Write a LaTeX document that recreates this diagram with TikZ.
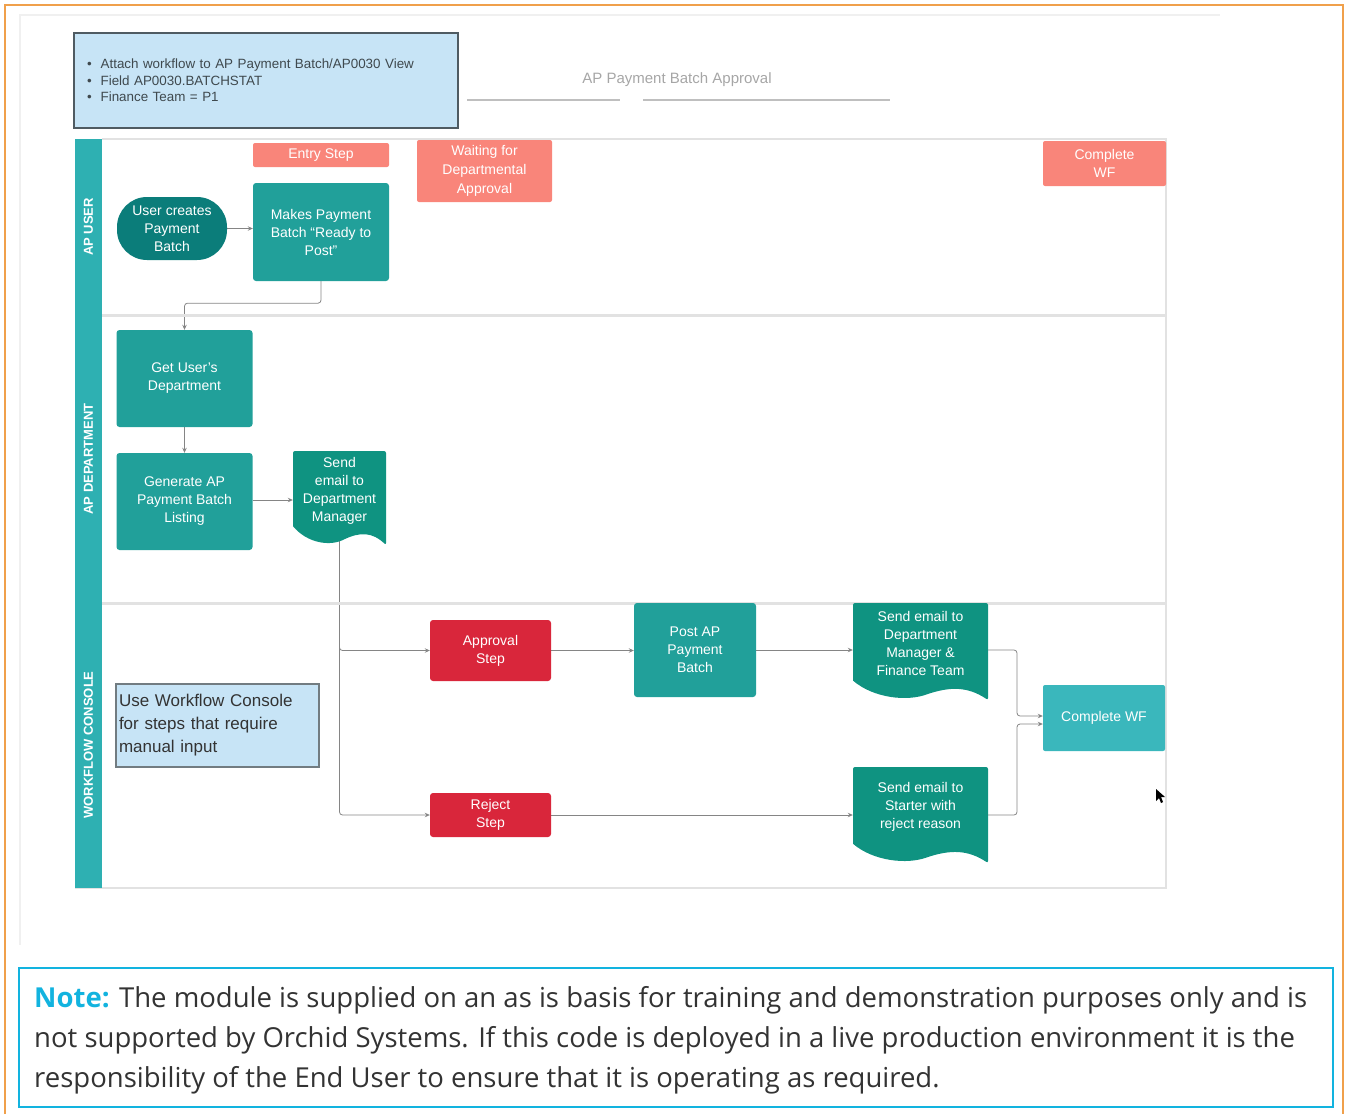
\documentclass[tikz,border=0pt]{standalone}
\usepackage{fontspec}
\setmainfont{Liberation Sans}
\newfontfamily\notefont{Open Sans}
\usetikzlibrary{arrows.meta,calc}
\definecolor{tealbox}{HTML}{21A09A}
\definecolor{tealdark}{HTML}{0B7D7A}
\definecolor{docc}{HTML}{0F9381}
\definecolor{tealwf}{HTML}{3AB7BC}
\definecolor{strip}{HTML}{2EB0B2}
\definecolor{salmon}{HTML}{F9857A}
\definecolor{redbox}{HTML}{D9263B}
\definecolor{lightblue}{HTML}{C7E4F6}
\definecolor{boxborder}{HTML}{4F5B62}
\definecolor{edgegray}{HTML}{858585}
\definecolor{lanegray}{HTML}{E2E2E2}
\definecolor{orangeframe}{HTML}{F0A04B}
\definecolor{notecyan}{HTML}{12B3DF}
\definecolor{notegray}{HTML}{333333}
\pgfdeclarelayer{bg}
\pgfsetlayers{bg,main}
\tikzset{
  nodetext/.style={text=white, align=center, font=\fontsize{14}{18}\selectfont, inner sep=2pt},
  tealn/.style={nodetext, fill=tealbox, rounded corners=3pt},
  salmonn/.style={nodetext, fill=salmon, rounded corners=2pt},
  redn/.style={nodetext, fill=redbox, rounded corners=3pt},
  edge/.style={draw=edgegray, line width=0.8pt, -{Stealth[length=5pt,width=4.5pt]}, rounded corners=3pt},
  lanelabel/.style={rotate=90, text=white, font=\bfseries\fontsize{13}{13}\selectfont, inner sep=0pt},
  notetext/.style={anchor=base west, inner sep=0pt, text=notegray, font=\notefont\fontsize{27.5}{27.5}\selectfont},
}
% name, L, T, w, h, text
\newcommand{\docnode}[6]{%
  \fill[docc, rounded corners=2pt] (#2,{#3+0.8*#5}) -- (#2,#3) -- ({#2+#4},#3) -- ({#2+#4},{#3+#5}) [sharp corners]
    .. controls ({#2+0.85*#4},{#3+0.86*#5}) and ({#2+0.72*#4},{#3+0.86*#5}) .. ({#2+0.55*#4},{#3+0.94*#5})
    .. controls ({#2+0.4*#4},{#3+1.02*#5}) and ({#2+0.15*#4},{#3+0.98*#5}) .. (#2,{#3+0.8*#5}) -- cycle;
  \node[nodetext, minimum width=#4pt, minimum height={0.84*#5pt}] (#1) at ({#2+0.5*#4},{#3+0.42*#5}) {#6};
}
\begin{document}
\begin{tikzpicture}[x=1pt, y=-1pt]
\useasboundingbox (0,0) rectangle (1346,1114);
% outer frame
\draw[orangeframe, line width=2pt] (5,1114) -- (5,5) -- (1343,5) -- (1343,1114);
\draw[black!6, line width=1.5pt] (20,945) -- (20,15) -- (1220,15);
% top info box
\node[fill=lightblue, draw=boxborder, line width=1.5pt, minimum width=384pt, minimum height=95pt,
  text width=358pt, inner xsep=13pt, align=left, text=boxborder!80!black,
  font=\fontsize{13.4}{16.5}\selectfont] (info) at (266,80.5)
  {\textbullet\ \ Attach workflow to AP Payment Batch/AP0030 View\\
   \textbullet\ \ Field AP0030.BATCHSTAT\\
   \textbullet\ \ Finance Team = P1};
% title
\node[text=black!35, font=\fontsize{15}{15}\selectfont] (title) at (677,80) {AP Payment Batch Approval};
\draw[black!25, line width=1.2pt] (467,100) -- (620,100);
\draw[black!25, line width=1.2pt] (643,100) -- (890,100);
% swimlanes
\draw[lanegray, line width=2pt] (102,139) -- (1166,139) -- (1166,888) -- (75,888);
\draw[lanegray, line width=3pt] (102,315) -- (1166,315);
\draw[lanegray, line width=3pt] (102,603) -- (1166,603);
\fill[strip] (75,139) rectangle (102,888);
\node[lanelabel] (lane1) at (88.5,227) {AP USER};
\node[lanelabel] (lane2) at (88.5,459) {AP DEPARTMENT};
\node[lanelabel] (lane3) at (88.5,745) {WORKFLOW CONSOLE};
% stage headers
\node[salmonn, minimum width=136pt, minimum height=24pt] (entry) at (321,155) {Entry Step};
\node[salmonn, minimum width=135pt, minimum height=62pt, font=\fontsize{14}{19}\selectfont] (waiting) at (484.5,171) {Waiting for\\Departmental\\Approval};
\node[salmonn, minimum width=123pt, minimum height=45pt] (completetop) at (1104.5,163.5) {Complete\\WF};
% process nodes
\node[nodetext, fill=tealdark, rounded corners=30pt, minimum width=110pt, minimum height=63pt] (user) at (172,228.5) {User creates\\Payment\\Batch};
\node[tealn, minimum width=136pt, minimum height=98pt] (makes) at (321,232) {Makes Payment\\Batch ``Ready to\\Post''};
\node[tealn, minimum width=136pt, minimum height=97pt] (getdept) at (184.5,378.5) {Get User's\\Department};
\node[tealn, minimum width=136pt, minimum height=97pt] (generate) at (184.5,501.5) {Generate AP\\Payment Batch\\Listing};
\docnode{senddm}{293}{451}{93}{94}{Send\\email to\\Department\\Manager}
\node[redn, minimum width=121pt, minimum height=61pt] (approval) at (490.5,650.5) {Approval\\Step};
\node[tealn, minimum width=122pt, minimum height=94pt] (post) at (695,650) {Post AP\\Payment\\Batch};
\docnode{sendfin}{853}{603}{135}{97}{Send email to\\Department\\Manager \&\\Finance Team}
\node[redn, minimum width=121pt, minimum height=44pt] (reject) at (490.5,815) {Reject\\Step};
\docnode{sendrej}{853}{767}{135}{96}{Send email to\\Starter with\\reject reason}
\node[nodetext, fill=tealwf, rounded corners=2pt, minimum width=122pt, minimum height=66pt] (completewf) at (1104,718) {Complete WF};
\node[fill=lightblue, draw=boxborder!80, line width=1.2pt, minimum width=203pt, minimum height=83pt,
  text width=197pt, inner sep=3pt, align=left, text=notegray,
  font=\fontsize{17}{23}\selectfont] (console) at (217.5,725.5)
  {Use Workflow Console\\for steps that require\\manual input};
% connectors (drawn beneath the shapes)
\begin{pgfonlayer}{bg}
\draw[edge] (user.east) -- (makes.west |- user.east);
\draw[edge] (makes.south) -- ++(0,22) -| (getdept.north);
\draw[edge] (getdept.south) -- (generate.north);
\draw[edge] (generate.east |- 0,500) -- (senddm.west |- 0,500);
\draw[edge] (senddm.south) |- (approval.west);
\draw[edge] (senddm.south) |- (reject.west);
\draw[edge] (approval.east) -- (approval.east -| post.west);
\draw[edge] (post.east) -- (post.east -| sendfin.west);
\draw[edge] (reject.east) -- (reject.east -| sendrej.west);
\draw[edge] (sendfin.east |- 0,650) -- (1017,650) |- ([yshift=2pt]completewf.west);
\draw[edge] (sendrej.east |- 0,815) -- (1017,815) |- ([yshift=-6pt]completewf.west);
\end{pgfonlayer}
% cursor
\fill[black] (1156,789) -- (1156,801) -- (1159,798) -- (1161,803) -- (1163,802) -- (1161,797) -- (1165,797) -- cycle;
% note box
\draw[notecyan, line width=2pt] (19,968) rectangle (1333,1107);
\node[notetext] (note1) at (34,1007)
  {\textcolor{notecyan}{\bfseries Note:} The module is supplied on an as is basis for training and demonstration purposes only and is};
\node[notetext] (note2) at (34,1047)
  {not supported by Orchid Systems. If this code is deployed in a live production environment it is the};
\node[notetext] (note3) at (34,1087)
  {responsibility of the End User to ensure that it is operating as required.};
\end{tikzpicture}
\end{document}
